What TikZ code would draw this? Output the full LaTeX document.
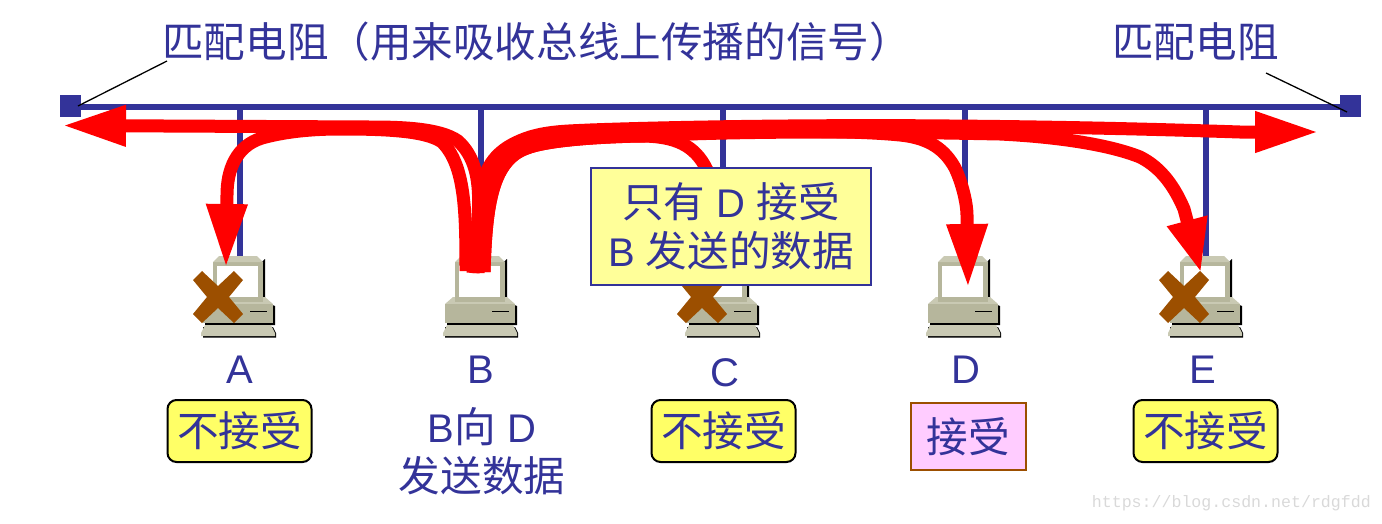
\documentclass[tikz,border=0pt]{standalone}
\usepackage{fontspec}
\setmainfont{Liberation Sans}
\newfontfamily\cjk{Noto Sans CJK SC}[Scale=1.04]
\usetikzlibrary{arrows.meta}
\definecolor{busblue}{HTML}{333399}
\definecolor{crossbrown}{HTML}{9C4F00}
\definecolor{pcdark}{HTML}{B6B69C}
\definecolor{pclight}{HTML}{C9C9B3}
\definecolor{rejectyellow}{HTML}{FFFF66}
\definecolor{noteyellow}{HTML}{FFFF99}
\definecolor{acceptpink}{HTML}{FFCCFF}
\tikzset{
  label40/.style={text=busblue,inner sep=0pt,font=\fontsize{40}{49}\selectfont,align=center},
  termbox/.style={fill=busblue,minimum width=21pt,minimum height=22pt,inner sep=0pt},
  rejectbox/.style={label40,draw=black,line width=2pt,fill=rejectyellow,rounded corners=9pt,minimum width=144pt,minimum height=62pt},
  flowline/.style={draw=red,line width=13pt},
  flow/.style={flowline,-{Triangle[length=64pt,width=38pt]}},
  flowshort/.style={flowline,-{Triangle[length=54pt,width=38pt]}},
  computer/.pic={
    \fill[black] (27,3) -- (27,46) -- (37,50) -- (37,69) -- (-33,69) -- (-33,50) -- (-20,46) -- cycle;
    \fill[black] (-35,71) -- (35,71) -- (38,77) -- (38,81.5) -- (-35,81.5) -- cycle;
    \fill[pclight] (-35,48) -- (-27,41) -- (27,41) -- (35,48) -- cycle;
    \fill[pcdark] (-35,48) -- (35,48) -- (35,67) -- (-35,67) -- cycle;
    \fill[pclight] (-33,69) -- (33,69) -- (37,77) -- (37,80) -- (-37,80) -- (-37,77) -- cycle;
    \fill[pcdark] (-25,6) rectangle (25,46);
    \fill[pclight] (-25,6) -- (-19,0) -- (19,0) -- (25,6) -- cycle;
    \fill[white] (-21,10) rectangle (20,41);
    \draw[black,line width=.8pt] (12,55) -- (29,55);
  },
  crossmark/.pic={
    \fill[crossbrown] (-25,-17) -- (-16,-26) -- (0,-11) -- (16,-26) -- (25,-17) -- (11,0)
      -- (25,17) -- (16,26) -- (0,11) -- (-16,26) -- (-25,17) -- (-11,0) -- cycle;
  },
}
\begin{document}
\begin{tikzpicture}[x=1pt,y=-1pt]
  \useasboundingbox (0,0) rectangle (1382,523);
  \node[termbox] (termL) at (70.5,106) {};
  \node[termbox] (termR) at (1350.5,106) {};
  \coordinate (busL) at (70,107);
  \coordinate (busR) at (1350,107);
  \draw[busblue,line width=6.5pt] (busL) -- (busR);
  \node[label40,anchor=west] (titleL) at (162,42) {\cjk 匹配电阻（用来吸收总线上传播的信号）};
  \node[label40,anchor=west] (titleR) at (1112,42) {\cjk 匹配电阻};
  \coordinate (leadL) at (167,61);
  \coordinate (leadR) at (1266,73);
  \draw[black,line width=1.3pt] (leadL) -- (78,106);
  \draw[black,line width=1.3pt] (leadR) -- (1347,112);
  \foreach \name/\x/\px/\lx/\ly in {A/240/238/239.5/370,B/481/480/480.5/370,C/723/722/724.5/373,D/965/963/966/370,E/1206/1205/1203/370}{
    \coordinate (tap\name) at (\x,107);
    \coordinate (pc\name) at (\px,256);
    \draw[busblue,line width=6.5pt] (tap\name) -- (\x,256);
    \pic at (pc\name) {computer};
    \node[label40] (name\name) at (\lx,\ly) {\name};
  }
  \draw[flow] (466,271) .. controls (466,210) and (465,165) .. (442,142)
    .. controls (425,130) and (380,129) .. (340,129) .. controls (305,129) and (280,133) .. (262,138)
    .. controls (236,146) and (227,170) .. (227,195) -- (226,268);
  \draw[flow] (473,273) .. controls (476,225) and (490,170) .. (458,141)
    .. controls (440,128) and (400,127) .. (370,127) -- (62,125.5);
  \draw[flow] (478,273) .. controls (478,190) and (475,155) .. (530,137)
    .. controls (550,131) and (570,131) .. (590,130) .. controls (700,126) and (850,125) .. (950,126)
    .. controls (1080,127) and (1180,130) .. (1240,132) -- (1319,132);
  \draw[flowline] (484,272) .. controls (486,205) and (492,160) .. (527,148)
    .. controls (545,141) and (590,137) .. (640,136) .. controls (675,136) and (695,145) .. (707,170);
  \draw[flow] (484,272) .. controls (486,205) and (492,160) .. (527,148)
    .. controls (545,141) and (590,137) .. (640,136) .. controls (750,130) and (850,130) .. (900,135)
    .. controls (930,138) and (945,150) .. (955,168) .. controls (963,185) and (967,205) .. (967,215) -- (968,288);
  \draw[flowshort] (640,136) .. controls (760,130) and (900,132) .. (1000,134)
    .. controls (1060,137) and (1110,145) .. (1140,157) .. controls (1162,168) and (1175,188) .. (1184,209) -- (1201,273);
  \pic at (218,297) {crossmark};
  \pic at (702,297) {crossmark};
  \pic at (1184,297) {crossmark};
  \node[label40,draw=busblue,line width=2pt,fill=noteyellow,minimum width=280pt,minimum height=117pt] (notebox) at (731,226) {{\cjk 只有} D {\cjk 接受}\\B {\cjk 发送的数据}};
  \node[rejectbox] (rejectA) at (239.5,431) {\cjk 不接受};
  \node[rejectbox] (rejectC) at (723.5,431) {\cjk 不接受};
  \node[rejectbox] (rejectE) at (1205.5,431) {\cjk 不接受};
  \node[label40,draw=crossbrown,line width=2pt,fill=acceptpink,minimum width=115pt,minimum height=67pt] (acceptD) at (968.5,436.5) {\cjk 接受};
  \node[label40] (senderB) at (482,451) {B{\cjk 向} D\\{\cjk 发送数据}};
  \node[text=black!15,inner sep=0pt,anchor=east,font=\fontsize{16.6}{20}\selectfont\fontspec{Liberation Mono}] (mark) at (1371,503) {https://blog.csdn.net/rdgfdd};
\end{tikzpicture}
\end{document}
